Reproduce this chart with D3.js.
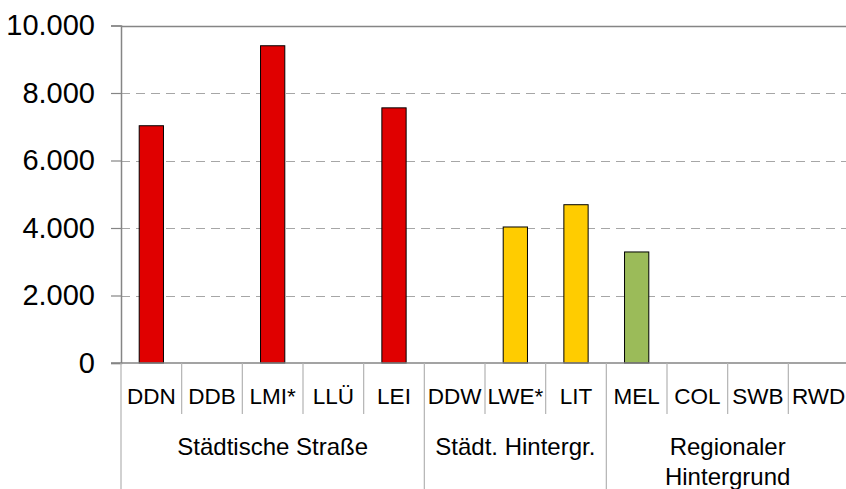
<!DOCTYPE html>
<html>
<head>
<meta charset="utf-8">
<script src="https://cdn.jsdelivr.net/npm/d3@7"></script>
<style>
  body { margin: 0; background: #fff; }
  text { font-family: "Liberation Sans", Arial, sans-serif; fill: #000; }
</style>
</head>
<body>
<svg id="chart"></svg>
<script>
// Messstationen und Werte
const categories = ['DDN', 'DDB', 'LMI*', 'LLÜ', 'LEI', 'DDW', 'LWE*', 'LIT', 'MEL', 'COL', 'SWB', 'RWD']
const values = [7030, null, 9400, null, 7560, null, 4030, 4690, 3290, null, null, null]
const groupNames = [['Städtische Straße'], ['Städt. Hintergr.'], ['Regionaler', 'Hintergrund']]
const groupSizes = [5, 3, 4]
const groupColors = ['#E00000', '#FFCC00', '#9BBB59']
const yTicks = [0, 2000, 4000, 6000, 8000, 10000]

const width = 846
const height = 489
const margin = { left: 121, top: 25.5, right: -3, bottom: 126 }

const svg = d3.select('#chart')
  .attr('width', width)
  .attr('height', height)

const x = d3.scaleBand()
  .domain(categories)
  .range([margin.left, width - margin.right])
  .padding(0)

const y = d3.scaleLinear()
  .domain([0, 10000])
  .range([height - margin.bottom, margin.top])

const fmt = d3.formatLocale({ decimal: ',', thousands: '.', grouping: [3], currency: ['', '€'] }).format(',')

// Gruppe je Kategorie
const groupOf = []
groupSizes.forEach((n, g) => { for (let i = 0; i < n; i++) groupOf.push(g) })

// Gitterlinien
svg.append('g')
  .selectAll('line')
  .data(yTicks.filter(d => d > 0))
  .enter()
  .append('line')
  .attr('x1', margin.left)
  .attr('x2', width)
  .attr('y1', d => Math.round(y(d)) + 0.5)
  .attr('y2', d => Math.round(y(d)) + 0.5)
  .attr('stroke', d => d === 10000 ? '#858585' : '#a6a6a6')
  .attr('stroke-width', d => d === 10000 ? 1.5 : 1.2)
  .attr('stroke-dasharray', d => d === 10000 ? null : '9,6')

// y-Achse
const yAxis = svg.append('g')
  .attr('transform', `translate(${margin.left},0)`)
  .call(d3.axisLeft(y).tickValues(yTicks).tickFormat(fmt).tickSize(10).tickPadding(16))
yAxis.select('.domain').attr('stroke', '#858585').attr('stroke-width', 1.5)
yAxis.selectAll('.tick line').attr('stroke', '#858585').attr('stroke-width', 1.2)
yAxis.selectAll('.tick text')
  .attr('font-size', 29)
  .attr('font-family', '"Liberation Sans", Arial, sans-serif')
  .attr('fill', '#000')

// Balken
const barW = x.bandwidth() * 0.4
svg.append('g')
  .selectAll('rect')
  .data(categories.map((c, i) => ({ c, v: values[i], g: groupOf[i] })).filter(d => d.v != null))
  .enter()
  .append('rect')
  .attr('x', d => x(d.c) + (x.bandwidth() - barW) / 2)
  .attr('y', d => y(d.v))
  .attr('width', barW)
  .attr('height', d => y(0) - y(d.v))
  .attr('fill', d => groupColors[d.g])
  .attr('stroke', '#000')
  .attr('stroke-width', 1)

// x-Achse (Nulllinie)
const y0 = y(0)
svg.append('line')
  .attr('x1', margin.left - 10)
  .attr('x2', width)
  .attr('y1', y0)
  .attr('y2', y0)
  .attr('stroke', '#858585')
  .attr('stroke-width', 1.5)

// Trennlinien zwischen Kategorien
const sepColor = '#b3b3b3'
const bounds = [0]
groupSizes.forEach(n => bounds.push(bounds[bounds.length - 1] + n))

svg.append('g')
  .selectAll('line')
  .data(d3.range(categories.length + 1))
  .enter()
  .append('line')
  .attr('x1', i => margin.left + i * x.step())
  .attr('x2', i => margin.left + i * x.step())
  .attr('y1', y0)
  .attr('y2', i => bounds.includes(i) ? height : y0 + 51)
  .attr('stroke', sepColor)
  .attr('stroke-width', 1.2)

// Kategorienamen
svg.append('g')
  .selectAll('text')
  .data(categories)
  .enter()
  .append('text')
  .attr('x', d => x(d) + x.bandwidth() / 2)
  .attr('y', y0 + 41)
  .attr('text-anchor', 'middle')
  .attr('font-size', 22.5)
  .text(d => d)

// Gruppennamen
groupNames.forEach((lines, g) => {
  const cx = margin.left + (bounds[g] + groupSizes[g] / 2) * x.step()
  lines.forEach((t, k) => {
    svg.append('text')
      .attr('x', cx)
      .attr('y', y0 + 92 + k * 30)
      .attr('text-anchor', 'middle')
      .attr('font-size', 24)
      .text(t)
  })
})
</script>
</body>
</html>
